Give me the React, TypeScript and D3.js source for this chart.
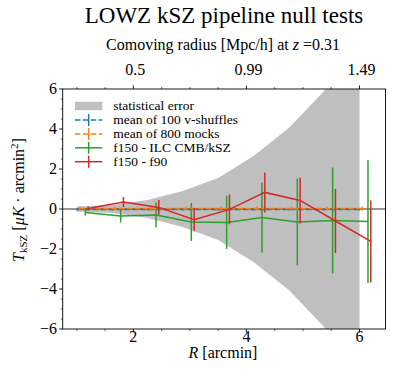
import React from "react";
import * as d3 from "d3";

// ---- data ----
const binR = [1.0, 1.625, 2.25, 2.875, 3.5, 4.125, 4.75, 5.375, 6.0];
const statErr = [0.13, 0.2, 0.45, 0.9, 1.55, 2.65, 4.05, 5.9, 8.5];

const shuffleVal = [-0.03, -0.03, -0.03, -0.03, -0.03, -0.03, -0.03, -0.03, -0.03];
const shuffleErr = [0.04, 0.04, 0.04, 0.04, 0.04, 0.04, 0.04, 0.04, 0.04];
const mockVal = [0.02, 0.02, 0.02, 0.02, 0.02, 0.02, 0.02, 0.02, 0.02];
const mockErr = [0.1, 0.1, 0.1, 0.1, 0.1, 0.1, 0.1, 0.1, 0.1];
const ilcVal = [-0.17, -0.35, -0.3, -0.65, -0.67, -0.42, -0.65, -0.58, -0.63];
const ilcErr = [0.15, 0.33, 0.62, 0.95, 1.33, 1.75, 2.17, 2.65, 3.07];
const f90Val = [0.02, 0.35, 0.08, -0.53, -0.02, 0.83, 0.43, -0.6, -1.62];
const f90Err = [0.1, 0.25, 0.37, 0.58, 0.74, 1.0, 1.15, 1.6, 2.05];

const offsets = { shuffle: 0.0, mock: 0.05, ilc: 0.15, f90: 0.2 };

const xTicks = [2, 4, 6];
const yTicks = [-6, -4, -2, 0, 2, 4, 6];
const topTickLabels = ["0.5", "0.99", "1.49"];

const legendLabels = [
  "statistical error",
  "mean of 100 v-shuffles",
  "mean of 800 mocks",
  "f150 - ILC CMB/kSZ",
  "f150 - f90",
];

const C = { blue: "#1f77b4", orange: "#ff7f0e", green: "#2ca02c", red: "#d62728", band: "#bfbfbf" };

const W = 395, H = 383;
const L = 62.7, R = 385.5, T = 89, B = 329;
const FONT = '"Liberation Serif", "Times New Roman", "DejaVu Serif", serif';
const ts = { fontFamily: FONT };

export default function App() {
  const x = d3.scaleLinear().domain([0.75, 6.46]).range([L, R]);
  const y = d3.scaleLinear().domain([-6, 6]).range([B, T]);

  const area = d3
    .area<number>()
    .x((_, i) => x(binR[i]))
    .y0((d) => y(-d))
    .y1((d) => y(d));

  const line = (vals: number[], off: number) =>
    d3
      .line<number>()
      .x((_, i) => x(binR[i] + off))
      .y((d) => y(d))(vals) as string;

  const errBars = (vals: number[], errs: number[], off: number, color: string, key: string) =>
    vals.map((v, i) => (
      <line
        key={key + i}
        x1={x(binR[i] + off)}
        x2={x(binR[i] + off)}
        y1={y(v - errs[i])}
        y2={y(v + errs[i])}
        stroke={color}
        strokeWidth={1.5}
      />
    ));

  const minorX = d3.range(1, 6.5, 0.5).filter((v) => v % 2 !== 0);
  const minorY = d3.range(-6, 6.01, 0.5).filter((v) => Math.abs(v % 2) > 1e-6);

  const legY = [106, 120, 133.9, 147.8, 161.7];
  const legColors = [C.band, C.blue, C.orange, C.green, C.red];
  const hx0 = 75, hx1 = 102.3;

  return (
    <svg width={W} height={H} style={{ position: "absolute", left: 0, top: 0, background: "#fff", fontFamily: FONT }}>
      <defs>
        <clipPath id="plotclip">
          <rect x={L} y={T} width={R - L} height={B - T} />
        </clipPath>
      </defs>
      <rect x={0} y={0} width={W} height={H} fill="#fff" />

      {/* titles */}
      <text x={224} y={23} fontSize={23} textAnchor="middle" fill="#000" style={ts}>
        LOWZ kSZ pipeline null tests
      </text>
      <text x={223} y={50} fontSize={16} textAnchor="middle" fill="#000" style={ts}>
        Comoving radius [Mpc/h] at <tspan fontStyle="italic">z</tspan> =0.31
      </text>

      <g clipPath="url(#plotclip)">
        <path d={area(statErr) as string} fill={C.band} />
        <line x1={L} x2={R} y1={y(0)} y2={y(0)} stroke="#333" strokeWidth={1.2} />
        {/* ILC green */}
        <path d={line(ilcVal, offsets.ilc)} fill="none" stroke={C.green} strokeWidth={1.5} />
        {errBars(ilcVal, ilcErr, offsets.ilc, C.green, "g")}
        {/* shuffles blue */}
        <path d={line(shuffleVal, offsets.shuffle)} fill="none" stroke={C.blue} strokeWidth={1.5} strokeDasharray="5.5,2.4" />
        {errBars(shuffleVal, shuffleErr, offsets.shuffle, C.blue, "b")}
        {/* mocks orange */}
        <path d={line(mockVal, offsets.mock)} fill="none" stroke={C.orange} strokeWidth={1.5} strokeDasharray="5.5,2.4" />
        {errBars(mockVal, mockErr, offsets.mock, C.orange, "o")}
        {/* f90 red */}
        <path d={line(f90Val, offsets.f90)} fill="none" stroke={C.red} strokeWidth={1.5} />
        {errBars(f90Val, f90Err, offsets.f90, C.red, "r")}
      </g>

      {/* spines */}
      <rect x={L} y={T} width={R - L} height={B - T} fill="none" stroke="#000" strokeWidth={0.9} />

      {/* x ticks bottom & top */}
      {xTicks.map((t) => (
        <g key={"xt" + t}>
          <line x1={x(t)} x2={x(t)} y1={B} y2={B + 3.5} stroke="#000" strokeWidth={0.9} />
          <line x1={x(t)} x2={x(t)} y1={T} y2={T - 3.5} stroke="#000" strokeWidth={0.9} />
          <text x={x(t)} y={342} fontSize={16} textAnchor="middle" style={ts}>{t}</text>
        </g>
      ))}
      {topTickLabels.map((lab, i) => (
        <text key={"tt" + i} x={x(xTicks[i]) + 2} y={75} fontSize={16} textAnchor="middle" style={ts}>
          {lab}
        </text>
      ))}
      {minorX.map((t) => (
        <g key={"mx" + t}>
          <line x1={x(t)} x2={x(t)} y1={B} y2={B + 2} stroke="#000" strokeWidth={0.6} />
          <line x1={x(t)} x2={x(t)} y1={T} y2={T - 2} stroke="#000" strokeWidth={0.6} />
        </g>
      ))}

      {/* y ticks */}
      {yTicks.map((t) => (
        <g key={"yt" + t}>
          <line x1={L} x2={L - 3.5} y1={y(t)} y2={y(t)} stroke="#000" strokeWidth={0.9} />
          <text x={57} y={y(t) + 5} fontSize={16} textAnchor="end" style={ts}>
            {t < 0 ? "\u2212" + Math.abs(t) : String(t)}
          </text>
        </g>
      ))}
      {minorY.map((t) => (
        <line key={"my" + t} x1={L} x2={L - 2} y1={y(t)} y2={y(t)} stroke="#000" strokeWidth={0.6} />
      ))}

      {/* axis labels */}
      <text x={223} y={358} fontSize={16} textAnchor="middle" style={ts}>
        <tspan fontStyle="italic">R</tspan> [arcmin]
      </text>
      <text transform="translate(24,200) rotate(-90)" fontSize={16} textAnchor="middle" style={ts}>
        <tspan fontStyle="italic">T</tspan>
        <tspan fontSize={11} dy={3}>kSZ</tspan>
        <tspan dy={-3}> [</tspan>
        <tspan fontStyle="italic">μK</tspan>
        <tspan> · arcmin</tspan>
        <tspan fontSize={11} dy={-6}>2</tspan>
        <tspan dy={6}>]</tspan>
      </text>

      {/* legend */}
      {legendLabels.map((lab, i) => (
        <g key={"lg" + i}>
          {i === 0 ? (
            <rect x={hx0} y={legY[i] - 4.2} width={hx1 - hx0} height={8.4} fill={C.band} />
          ) : (
            <g>
              <line
                x1={hx0}
                x2={hx1}
                y1={legY[i]}
                y2={legY[i]}
                stroke={legColors[i]}
                strokeWidth={1.5}
                strokeDasharray={i <= 2 ? "5.5,2.4" : undefined}
              />
              <line
                x1={(hx0 + hx1) / 2}
                x2={(hx0 + hx1) / 2}
                y1={legY[i] - 6}
                y2={legY[i] + 6}
                stroke={legColors[i]}
                strokeWidth={1.5}
              />
            </g>
          )}
          <text x={113.3} y={legY[i] + 4} fontSize={13.5} fill="#000" style={ts}>
            {lab}
          </text>
        </g>
      ))}
    </svg>
  );
}
